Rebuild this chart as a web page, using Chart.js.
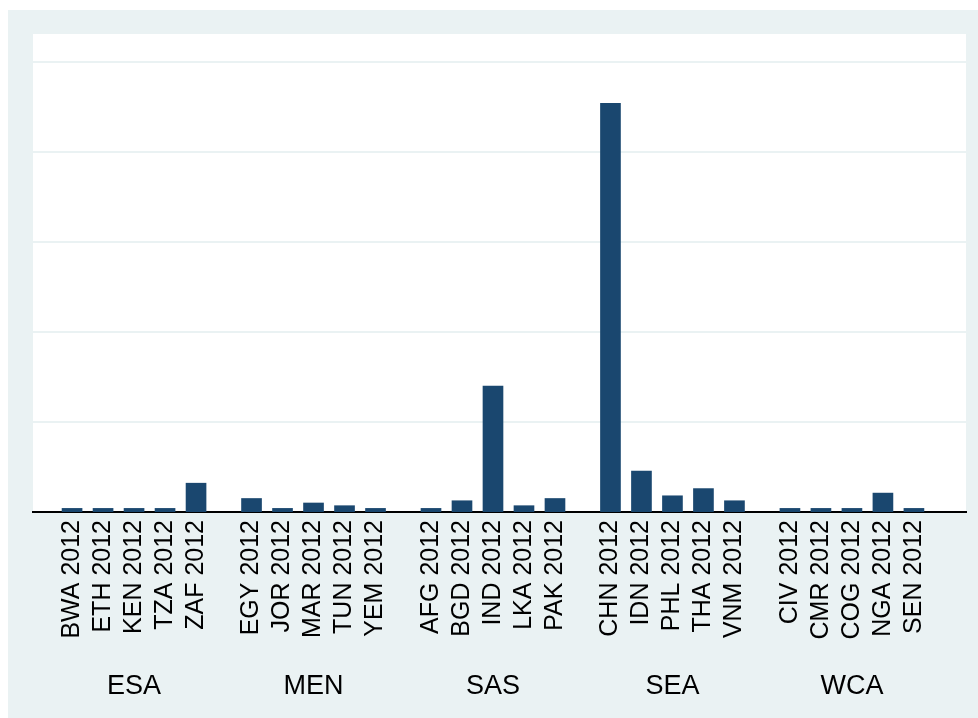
<!DOCTYPE html>
<html>
<head>
<meta charset="utf-8">
<script src="https://cdn.jsdelivr.net/npm/chart.js@4/dist/chart.umd.min.js"></script>
<style>
  html, body { margin: 0; padding: 0; background: #ffffff; }
  canvas { display: block; }
</style>
</head>
<body>
<canvas id="chart" width="978" height="718"></canvas>
<script>
// Regions and the countries reported within each one (survey year 2012)
const regions = ['ESA', 'MEN', 'SAS', 'SEA', 'WCA'];
const countryRegion = [
  0, 0, 0, 0, 0,
  1, 1, 1, 1, 1,
  2, 2, 2, 2, 2,
  3, 3, 3, 3, 3,
  4, 4, 4, 4, 4
];
const tickLabels = [
  'BWA 2012', 'ETH 2012', 'KEN 2012', 'TZA 2012', 'ZAF 2012',
  'EGY 2012', 'JOR 2012', 'MAR 2012', 'TUN 2012', 'YEM 2012',
  'AFG 2012', 'BGD 2012', 'IND 2012', 'LKA 2012', 'PAK 2012',
  'CHN 2012', 'IDN 2012', 'PHL 2012', 'THA 2012', 'VNM 2012',
  'CIV 2012', 'CMR 2012', 'COG 2012', 'NGA 2012', 'SEN 2012'
];
const values = [
  0.04, 0.04, 0.04, 0.04, 0.32,
  0.15, 0.04, 0.10, 0.07, 0.04,
  0.04, 0.125, 1.40, 0.07, 0.15,
  4.54, 0.455, 0.18, 0.26, 0.125,
  0.04, 0.04, 0.04, 0.21, 0.04
];

// Extra space left between consecutive region groups, in bar slots
const GROUP_GAP = 0.79;
const xPositions = tickLabels.map((_, i) => i + countryRegion[i] * GROUP_GAP);

const FONT = "'Liberation Sans', Arial, sans-serif";
const PANEL = '#eaf2f3';
const BAR = '#1a476f';

// Light panel behind the whole graph, white plot region on top of it
const backgroundPlugin = {
  id: 'panelBackground',
  beforeDraw(chart) {
    const { ctx, chartArea } = chart;
    ctx.save();
    ctx.fillStyle = '#ffffff';
    ctx.fillRect(0, 0, chart.width, chart.height);
    ctx.fillStyle = PANEL;
    ctx.fillRect(8, 10, chart.width - 8, chart.height - 10);
    ctx.fillStyle = '#ffffff';
    ctx.fillRect(chartArea.left, chartArea.top,
                 chartArea.right - chartArea.left, chartArea.bottom - chartArea.top);
    ctx.restore();
  }
};

// Region names centred under each group of bars
const groupLabelPlugin = {
  id: 'groupLabels',
  afterDraw(chart) {
    const { ctx } = chart;
    const xs = chart.scales.x;
    ctx.save();
    ctx.fillStyle = '#000000';
    ctx.font = '27px ' + FONT;
    ctx.textAlign = 'center';
    ctx.textBaseline = 'middle';
    regions.forEach((name, g) => {
      const members = xPositions.filter((_, i) => countryRegion[i] === g);
      const mid = (Math.min(...members) + Math.max(...members)) / 2;
      ctx.fillText(name, xs.getPixelForValue(mid), 687);
    });
    ctx.restore();
  }
};

new Chart(document.getElementById('chart'), {
  type: 'bar',
  data: {
    datasets: [{
      data: values.map((v, i) => ({ x: xPositions[i], y: v })),
      backgroundColor: BAR,
      borderWidth: 0,
      barThickness: 20
    }]
  },
  options: {
    responsive: false,
    animation: false,
    layout: { padding: { left: 33, top: 34, right: 12, bottom: 0 } },
    plugins: { legend: { display: false }, tooltip: { enabled: false } },
    scales: {
      x: {
        type: 'linear',
        offset: false,
        min: -1.26,
        max: 28.84,
        afterBuildTicks(scale) {
          scale.ticks = xPositions.map(v => ({ value: v }));
        },
        afterFit(scale) { scale.height = 206; },
        grid: { display: false, drawTicks: false },
        border: { display: true, color: '#000000', width: 2 },
        ticks: {
          autoSkip: false,
          minRotation: 90,
          maxRotation: 90,
          padding: 8,
          color: '#000000',
          font: { family: FONT, size: 25 },
          callback(value, index) { return tickLabels[index]; }
        }
      },
      y: {
        min: 0,
        max: 5.31,
        afterBuildTicks(scale) {
          scale.ticks = [1, 2, 3, 4, 5].map(v => ({ value: v }));
        },
        afterFit(scale) { scale.width = 0; },
        grid: { color: PANEL, lineWidth: 2, drawTicks: false },
        border: { display: false },
        ticks: { display: false }
      }
    }
  },
  plugins: [backgroundPlugin, groupLabelPlugin]
});
</script>
</body>
</html>
